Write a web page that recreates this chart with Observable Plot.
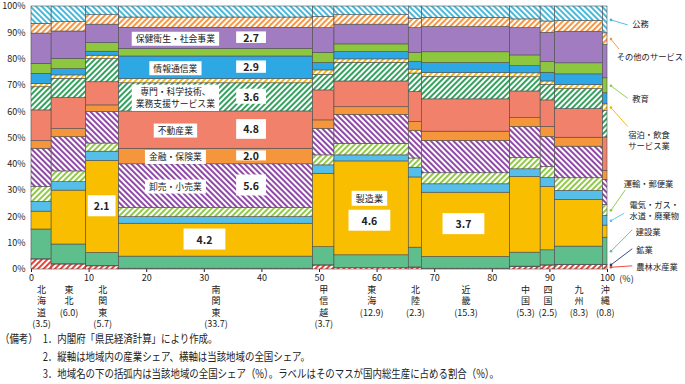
<!DOCTYPE html>
<html><head><meta charset="utf-8">
<script src="https://cdn.jsdelivr.net/npm/d3@7"></script>
<script src="https://cdn.jsdelivr.net/npm/@observablehq/plot@0.6"></script>
<style>
body{margin:0;background:#fff;font-family:"Noto Sans CJK JP",sans-serif;color:#222;}
#notes{font-size:11.5px;line-height:17.5px;margin-top:1px;}
.note{white-space:nowrap;transform:scaleX(0.82);transform-origin:0 50%;}
.note span{display:inline-block;}
</style></head><body>
<svg width="0" height="0" style="position:absolute"><defs id="pats"></defs></svg>
<div id="chart"></div>
<div id="notes"></div>
<script>
// ---- data ----
const regions = ["北海道","東北","北関東","南関東","甲信越","東海","北陸","近畿","中国","四国","九州","沖縄"];
const regionShares = [3.5,6.0,5.7,33.7,3.7,12.9,2.3,15.3,5.3,2.5,8.3,0.8];
const industries = ["農林水産業","鉱業","建設業","製造業","電気・ガス・水道・廃棄物","運輸・郵便業","卸売・小売業","金融・保険業","不動産業","専門・科学技術、業務支援サービス業","宿泊・飲食サービス業","情報通信業","教育","保健衛生・社会事業","その他のサービス","公務"];
const agriculture   = [3.8,1.9,1.2,0.3,1.5,0.6,0.7,0.3,1.0,1.5,1.7,1.7];
const mining        = [0.1,0.1,0.1,0.0,0.1,0.0,0.1,0.0,0.1,0.1,0.1,0.1];
const construction  = [11.3,7.5,5.0,4.6,6.9,4.8,7.5,4.5,5.3,5.7,6.9,10.3];
const manufacturing = [6.8,20.5,35.0,12.5,27.9,35.7,26.7,24.4,28.8,24.1,17.8,4.6];
const utilities     = [3.7,3.2,3.5,2.5,3.2,2.3,3.7,3.2,2.9,3.4,3.4,3.7];
const transport     = [5.7,4.1,3.1,3.5,3.8,4.4,3.5,4.2,4.3,4.2,4.8,4.2];
const trade         = [14.5,13.0,12.0,16.6,10.1,11.0,10.4,12.3,11.8,11.4,12.0,9.5];
const finance       = [2.9,3.1,2.5,5.9,3.2,2.9,3.5,3.5,3.4,3.8,3.4,3.4];
const realEstate    = [11.7,11.8,8.8,14.2,11.4,9.8,11.4,12.3,10.1,10.1,10.9,12.7];
const professional  = [8.8,7.3,8.8,10.7,5.9,7.1,7.0,8.5,5.4,5.9,7.6,10.1];
const accommodation = [1.3,1.3,1.3,1.6,1.7,1.3,1.5,1.5,1.5,1.3,1.5,2.5];
const ict           = [3.8,2.4,1.5,8.6,2.8,2.8,2.9,3.8,2.7,3.3,4.1,4.2];
const education     = [3.8,3.9,3.3,2.9,3.9,2.9,3.5,4.1,4.1,4.1,4.2,5.7];
const health        = [11.5,10.4,7.0,8.0,9.4,7.5,9.4,9.6,10.4,11.1,12.0,12.7];
const otherServices = [3.7,3.6,3.6,3.9,4.2,3.6,3.5,3.5,3.3,4.3,4.1,4.4];
const government    = [6.6,5.9,3.3,4.2,4.0,3.3,4.7,4.3,4.9,5.7,5.5,10.2];
const xTicks = [0,10,20,30,40,50,60,70,80,90,100];
const yTicks = [0,10,20,30,40,50,60,70,80,90,100];

// cell labels (GDP share of the cell, %)
const labelRegions    = ["南関東","南関東","南関東","南関東","南関東","南関東","南関東","北関東","東海","近畿"];
const labelIndustries = ["保健衛生・社会事業","情報通信業","専門・科学技術、業務支援サービス業","不動産業","金融・保険業","卸売・小売業","製造業","製造業","製造業","製造業"];
const labelNames      = ["保健衛生・社会事業","情報通信業","専門・科学技術、\n業務支援サービス業","不動産業","金融・保険業","卸売・小売業",null,null,"製造業",null];
const labelValues     = ["2.7","2.9","3.6","4.8","2.0","5.6","4.2","2.1","4.6","3.7"];

// right-side legend
const legendIndustries = ["公務","その他のサービス","教育","宿泊・飲食サービス業","運輸・郵便業","電気・ガス・水道・廃棄物","建設業","鉱業","農林水産業"];
const legendTexts = ["公務","その他のサービス","教育","宿泊・飲食\nサービス業","運輸・郵便業","電気・ガス・\n水道・廃棄物","建設業","鉱業","農林水産業"];

const notes = [
  ["（備考）","1．内閣府「県民経済計算」により作成。"],
  ["","2．縦軸は地域内の産業シェア、横軸は当該地域の全国シェア。"],
  ["","3．地域名の下の括弧内は当該地域の全国シェア（%）。ラベルはそのマスが国内総生産に占める割合（%）。"]
];

// ---- layout / style ----
const legendLabelX = [104.3,101.6,104.3,103.6,102.8,103.8,104.9,105.0,105.0];
const legendLabelY = [93.4,81.0,65.0,49.2,32.7,22.6,14.4,7.7,1.1];
const legendEndX   = [103.5,102.0,103.5,103.5,103.1,102.9,104.3,104.3,104.3];
const legendEndY   = [93.0,83.8,65.1,54.4,30.3,21.4,15.1,7.9,1.4];
const industryStyle = [
  {color:"#e8392e", hatch:"/"},
  {color:"#1f3a7a", hatch:null},
  {color:"#5fbf8c", hatch:null},
  {color:"#f9be00", hatch:null},
  {color:"#55bfea", hatch:null},
  {color:"#8cc63f", hatch:"/"},
  {color:"#8b40a4", hatch:"\\"},
  {color:"#f6963c", hatch:null},
  {color:"#f1816a", hatch:null},
  {color:"#2a9d56", hatch:"/"},
  {color:"#f5b400", hatch:"/"},
  {color:"#2ea8e4", hatch:null},
  {color:"#8dc63f", hatch:null},
  {color:"#a27cc1", hatch:null},
  {color:"#f5923a", hatch:"/"},
  {color:"#3fb5d9", hatch:"\\"}
];

const series = [agriculture,mining,construction,manufacturing,utilities,transport,trade,finance,realEstate,professional,accommodation,ict,education,health,otherServices,government];

// patterns
const defs = d3.select("#pats");
industryStyle.forEach((s,i)=>{
  if(!s.hatch) return;
  const p = defs.append("pattern").attr("id","hp"+i).attr("patternUnits","userSpaceOnUse")
    .attr("width",4).attr("height",4).attr("patternTransform",`rotate(${s.hatch==="/"?45:-45})`);
  p.append("rect").attr("width",4).attr("height",4).attr("fill","#fff");
  p.append("rect").attr("width",1.9).attr("height",4).attr("fill",s.color);
});
const fillOf = j => industryStyle[j].hatch ? `url(#hp${j})` : industryStyle[j].color;

// cells
const cells = [];
const cols = [];
let x0 = 0;
regions.forEach((r,i)=>{
  const w = regionShares[i];
  cols.push({region:r, x1:x0, x2:x0+w, share:w});
  let y0 = 0;
  industries.forEach((ind,j)=>{
    const v = series[j][i];
    cells.push({region:r, industry:ind, j, x1:x0, x2:x0+w, y1:y0, y2:y0+v, fill:fillOf(j)});
    y0 += v;
  });
  x0 += w;
});
const cellOf = (r,ind) => cells.find(c=>c.region===r && c.industry===ind);

// label rows
const nameSide=[], valueSide=[], nameStack=[], valueStack=[], valueOnly=[];
labelRegions.forEach((r,k)=>{
  const c = cellOf(r,labelIndustries[k]);
  const w = c.x2-c.x1, mid=(c.y1+c.y2)/2;
  if (labelNames[k] && r==="南関東") {
    nameSide.push({x:c.x1+0.29*w, y:mid, text:labelNames[k], c});
    valueSide.push({x:c.x1+0.68*w, y:mid, text:labelValues[k], c});
  } else if (labelNames[k]) {
    nameStack.push({x:c.x1+0.47*w, y:mid, text:labelNames[k], c});
    valueStack.push({x:c.x1+0.47*w, y:mid, text:labelValues[k], c});
  } else {
    valueOnly.push({x:c.x1+(r==="南関東"?0.44:0.47)*w, y:mid, text:labelValues[k], c});
  }
});

// legend rows
const legendRows = legendIndustries.map((ind,k)=>{
  const c = cellOf("沖縄",ind);
  const j = industries.indexOf(ind);
  return {sx:100.6, sy:(c.y1+c.y2)/2, ex:legendEndX[k], ey:legendEndY[k], lx:legendLabelX[k], ly:legendLabelY[k], text:legendTexts[k], color:industryStyle[j].color};
});

const regionRows = cols.map(c=>({x:(c.x1+c.x2)/2, text:[...c.region].join("\n")+"\n("+c.share.toFixed(1)+")"}));

const F = "'Noto Sans CJK JP', sans-serif";
const plot = Plot.plot({
  width:685, height:329,
  marginLeft:31, marginRight:78, marginTop:6, marginBottom:60,
  style:{fontFamily:F, fontSize:"9px", color:"#222", background:"#fff", overflow:"visible"},
  x:{domain:[0,100], ticks:xTicks, tickSize:3, tickPadding:2, label:null},
  y:{domain:[0,100], ticks:yTicks, tickFormat:d=>d+"%", tickSize:0, tickPadding:6, label:null},
  color:{type:"identity"},
  marks:[
    Plot.rect(cells,{x1:"x1",x2:"x2",y1:"y1",y2:"y2",fill:"fill",stroke:"#4d4d4d",strokeWidth:0.6}),
    Plot.link(legendRows,{x1:"sx",y1:"sy",x2:"ex",y2:"ey",stroke:"color",strokeWidth:0.9}),
    Plot.dot(legendRows,{x:"sx",y:"sy",r:1.3,fill:"color"}),
    Plot.text(legendRows,{x:"lx",y:"ly",text:"text",textAnchor:"start",lineHeight:1.3,fontSize:8.3,fill:"#222"}),
    Plot.text(regionRows,{x:"x",y:0,text:"text",lineAnchor:"top",dy:15,lineHeight:1.28,fontSize:9,fill:"#222"}),
    Plot.text([100],{x:d=>d,y:0,text:()=>"(%)",dx:19,dy:10,fontSize:9,fill:"#222"}),
    Plot.text(nameSide,{x:"x",y:"y",text:"text",fontSize:8.8,lineHeight:1.4,fill:"#222",ariaDescription:"lbl-name"}),
    Plot.text(nameStack,{x:"x",y:"y",text:"text",fontSize:9.2,dy:-9,fill:"#222",ariaDescription:"lbl-name2"}),
    Plot.text(valueSide,{x:"x",y:"y",text:"text",fontSize:10.5,fontWeight:"bold",fill:"#222",ariaDescription:"lbl-value"}),
    Plot.text(valueStack,{x:"x",y:"y",text:"text",fontSize:10.5,fontWeight:"bold",dy:13,fill:"#222",ariaDescription:"lbl-value2"}),
    Plot.text(valueOnly,{x:"x",y:"y",text:"text",fontSize:10.5,fontWeight:"bold",fill:"#222",ariaDescription:"lbl-value3"})
  ]
});
document.getElementById("chart").appendChild(plot);

// white boxes behind cell labels
const ys = plot.scale("y"), xs = plot.scale("x");
function boxes(label, rows, kind){
  const g = plot.querySelector(`g[aria-description="${label}"]`);
  if (!g) return;
  Array.from(g.querySelectorAll("text")).forEach((t,k)=>{
    const b = t.getBBox();
    const c = rows[k] && rows[k].c;
    let w, h;
    if (kind==="name") { w=b.width+8; h=b.height+1; }
    else if (kind==="side") {
      const segPx = Math.abs(ys.apply(c.y1)-ys.apply(c.y2));
      w = b.width+14; h = Math.max(10, Math.min(21, segPx*0.5+1));
    } else {
      const colPx = Math.abs(xs.apply(c.x2)-xs.apply(c.x1));
      w = Math.min(b.width+26, colPx-5); h = 21;
    }
    const cx = b.x+b.width/2, cy = b.y+b.height/2;
    const r = document.createElementNS("http://www.w3.org/2000/svg","rect");
    r.setAttribute("x",cx-w/2); r.setAttribute("y",cy-h/2);
    r.setAttribute("width",w); r.setAttribute("height",h);
    r.setAttribute("fill","#fff");
    r.setAttribute("stroke","none");
    const tr = t.getAttribute("transform"); if(tr) r.setAttribute("transform",tr);
    t.parentNode.insertBefore(r,t);
  });
}
boxes("lbl-name",nameSide,"name");
boxes("lbl-name2",nameStack,"name");
boxes("lbl-value",valueSide,"side");
boxes("lbl-value2",valueStack,"big");
boxes("lbl-value3",valueOnly,"big");

// notes
const nd = d3.select("#notes");
notes.forEach(([a,b])=>{
  const line = nd.append("div").attr("class","note");
  line.append("span").style("width","52px").text(a);
  line.append("span").text(b);
});
</script>
</body></html>
